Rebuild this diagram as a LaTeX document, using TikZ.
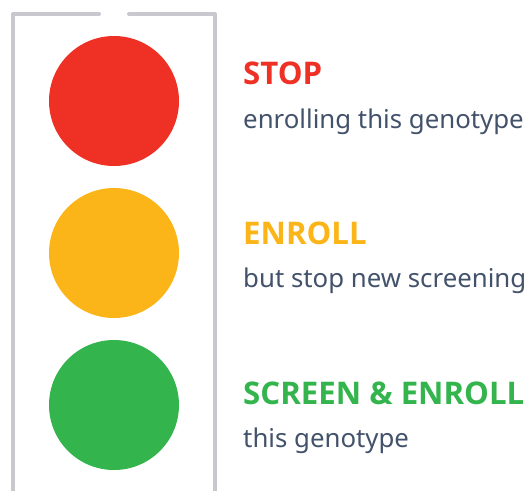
\documentclass[tikz,border=0pt]{standalone}
\usepackage{fontspec}
\setmainfont{Noto Sans}
\newfontfamily\headfont{Open Sans}
\definecolor{lightred}{HTML}{EE3124}
\definecolor{lightyellow}{HTML}{FBB519}
\definecolor{lightgreen}{HTML}{33B44D}
\definecolor{caption}{HTML}{43526B}
\definecolor{frame}{HTML}{C8C8CE}
\begin{document}
\begin{tikzpicture}[x=1pt,y=-1pt,
    lamp/.style={circle,inner sep=0pt,minimum size=130pt,fill=#1},
    title/.style={anchor=base west,inner sep=0pt,font=\headfont\fontsize{31.2}{36}\selectfont\bfseries,text=#1},
    note/.style={anchor=base west,inner sep=0pt,font=\fontsize{25.8}{30}\selectfont,text=caption}]
      \useasboundingbox (0,0) rectangle (527,490);
      \draw[frame,line width=4pt,line cap=round,line join=round] (99,14) -- (13,14) -- (13,500);
      \draw[frame,line width=4pt,line cap=round,line join=round] (129,14) -- (215,14) -- (215,500);
      \node[lamp=lightred] (red) at (114,101) {};
      \node[lamp=lightyellow] (yellow) at (114,253) {};
      \node[lamp=lightgreen] (green) at (114,405) {};
      \node[title=lightred] (stop) at (243,84) {STOP};
      \node[note] (stopnote) at (243,128) {enrolling this genotype};
      \node[title=lightyellow] (enroll) at (243,244) {ENROLL};
      \node[note] (enrollnote) at (243,287) {but stop new screening};
      \node[title=lightgreen] (screen) at (243,404) {SCREEN \& ENROLL};
      \node[note] (screennote) at (243,447) {this genotype};
    \end{tikzpicture}
\end{document}
